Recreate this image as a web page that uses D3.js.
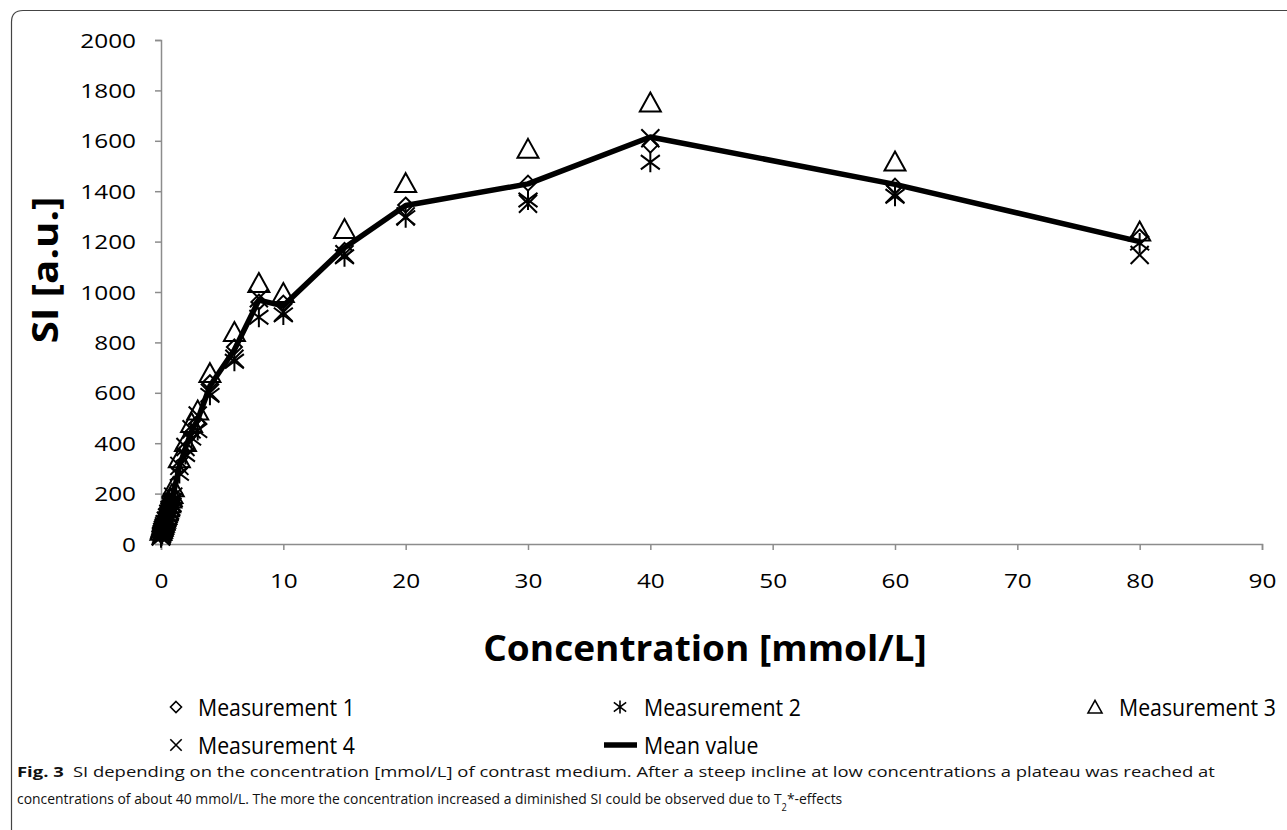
<!DOCTYPE html>
<html>
<head>
<meta charset="utf-8">
<script src="https://cdn.jsdelivr.net/npm/d3@7/dist/d3.min.js"></script>
<style>
  html, body { margin: 0; padding: 0; background: #fff; }
  svg { display: block; }
</style>
</head>
<body>
<svg id="chart" width="1287" height="830"></svg>
<script>
// Concentration of contrast medium [mmol/L]
const concentration = [0, 0.05, 0.1, 0.15, 0.2, 0.25, 0.3, 0.4, 0.5, 0.6, 0.7, 0.8, 0.9, 1, 1.5, 2, 2.5, 3, 4, 6, 8, 10, 15, 20, 30, 40, 60, 80];
// Signal intensity [a.u.] per measurement
const measurement1 = [35, 44, 52, 60, 66, 74, 80, 94, 110, 124, 140, 156, 172, 195, 300, 375, 440, 480, 640, 782, 960, 956, 1165, 1345, 1432, 1583, 1420, 1218];
const measurement2 = [25, 33, 40, 48, 55, 62, 70, 84, 98, 112, 125, 140, 155, 175, 280, 355, 420, 450, 590, 725, 900, 909, 1140, 1295, 1365, 1515, 1380, 1194];
const measurement3 = [52, 60, 68, 76, 84, 92, 100, 115, 130, 146, 162, 180, 198, 225, 340, 405, 480, 530, 678, 841, 1036, 996, 1250, 1432, 1568, 1752, 1518, 1240];
const measurement4 = [30, 38, 47, 55, 62, 70, 78, 92, 105, 120, 135, 150, 165, 188, 310, 385, 455, 510, 600, 735, 975, 920, 1150, 1300, 1350, 1610, 1390, 1147];
const meanValue   = [36, 44, 52, 60, 67, 75, 82, 96, 111, 126, 141, 157, 173, 196, 308, 380, 449, 493, 627, 771, 968, 945, 1176, 1343, 1429, 1615, 1427, 1200];

const yTicks = [0, 200, 400, 600, 800, 1000, 1200, 1400, 1600, 1800, 2000];
const xTicks = [0, 10, 20, 30, 40, 50, 60, 70, 80, 90];

const legendLabels = ["Measurement 1", "Measurement 2", "Measurement 3", "Measurement 4", "Mean value"];
const xTitle = "Concentration [mmol/L]";
const yTitle = "SI [a.u.]";
const captionLine1 = "SI depending on the concentration [mmol/L] of contrast medium. After a steep incline at low concentrations a plateau was reached at";
const captionLine2 = "concentrations of about 40 mmol/L. The more the concentration increased a diminished SI could be observed due to T";

const FONT = "'Open Sans', 'DejaVu Sans', sans-serif";
const svg = d3.select("#chart");

// Outer figure frame with rounded top-left corner
svg.append("path")
  .attr("d", "M11.5,840 L11.5,22 Q11.5,10.5 23,10.5 L1300,10.5")
  .attr("fill", "none").attr("stroke", "#444").attr("stroke-width", 1.2);

const x = d3.scaleLinear().domain([0, 90]).range([161, 1262]);
const y = d3.scaleLinear().domain([0, 2000]).range([544, 40]);

const axisColor = "#8c8c8c";
const sxTick = 1.25;

// Y axis
const gy = svg.append("g").attr("transform", `translate(${x(0)},0)`)
  .call(d3.axisLeft(y).tickValues(yTicks).tickSize(6).tickPadding(0).tickFormat(d3.format("d")));
gy.select(".domain").attr("stroke", axisColor).attr("stroke-width", 1.5);
gy.selectAll(".tick line").attr("stroke", axisColor).attr("stroke-width", 1.5);
gy.selectAll(".tick text")
  .attr("x", -25 / sxTick).attr("dy", "0.36em")
  .attr("transform", `scale(${sxTick},1)`)
  .attr("font-family", FONT).attr("font-size", 19.5).attr("fill", "#000");

// X axis
const gx = svg.append("g").attr("transform", `translate(0,${y(0)})`)
  .call(d3.axisBottom(x).tickValues(xTicks).tickSize(6).tickPadding(0).tickFormat(d3.format("d")));
gx.select(".domain").attr("stroke", axisColor).attr("stroke-width", 1.5);
gx.selectAll(".tick line").attr("stroke", axisColor).attr("stroke-width", 1.5);
gx.selectAll(".tick text")
  .attr("y", 44).attr("dy", 0)
  .attr("transform", `scale(${sxTick},1)`)
  .attr("font-family", FONT).attr("font-size", 19.5).attr("fill", "#000");

// Axis titles
svg.append("text")
  .attr("transform", `translate(45,270) rotate(-90) scale(1.12,1)`)
  .attr("text-anchor", "middle").attr("dy", "0.35em")
  .attr("font-family", FONT).attr("font-weight", "bold").attr("font-size", 36)
  .text(yTitle);
svg.append("text")
  .attr("transform", `translate(705,661) scale(1.09,1.05)`)
  .attr("text-anchor", "middle")
  .attr("font-family", FONT).attr("font-weight", "bold").attr("font-size", 34)
  .text(xTitle);

// Marker shapes
function markerPath(kind, s) {
  const h = s / 2;
  if (kind === "diamond") return `M0,${-h}L${h},0L0,${h}L${-h},0Z`;
  if (kind === "triangle") { const t = h * 0.95; return `M0,${-t}L${h},${t * 0.9}L${-h},${t * 0.9}Z`; }
  if (kind === "cross") { const c = h * 0.95; return `M${-c},${-c}L${c},${c}M${-c},${c}L${c},${-c}`; }
  if (kind === "star") { const c = h * 0.95; return `M0,${-h}L0,${h}M${-c},${-c * 0.75}L${c},${c * 0.75}M${-c},${c * 0.75}L${c},${-c * 0.75}`; }
  return "";
}

const series = [
  { name: legendLabels[0], values: measurement1, kind: "diamond", size: 15 },
  { name: legendLabels[1], values: measurement2, kind: "star", size: 20 },
  { name: legendLabels[2], values: measurement3, kind: "triangle", size: 21 },
  { name: legendLabels[3], values: measurement4, kind: "cross", size: 19 }
];

const plot = svg.append("g");
series.forEach(s => {
  plot.append("g").selectAll("path")
    .data(concentration.map((c, i) => [c, s.values[i]]))
    .join("path")
    .attr("transform", d => `translate(${x(d[0])},${y(d[1])})`)
    .attr("d", markerPath(s.kind, s.size))
    .attr("fill", "none").attr("stroke", "#000").attr("stroke-width", 2);
});

// Mean value line
plot.append("path")
  .datum(concentration.map((c, i) => [c, meanValue[i]]))
  .attr("d", d3.line().x(d => x(d[0])).y(d => y(d[1])))
  .attr("fill", "none").attr("stroke", "#000").attr("stroke-width", 5.5)
  .attr("stroke-linejoin", "round");

// Legend
const legendItems = [
  { label: legendLabels[0], kind: "diamond", mx: 176, my: 707, tx: 198, size: 11 },
  { label: legendLabels[1], kind: "star", mx: 620, my: 707, tx: 644, size: 13 },
  { label: legendLabels[2], kind: "triangle", mx: 1095, my: 707, tx: 1119, size: 14 },
  { label: legendLabels[3], kind: "cross", mx: 176, my: 745, tx: 198, size: 12 },
  { label: legendLabels[4], kind: "line", mx: 620, my: 745, tx: 644, size: 0 }
];
const lg = svg.append("g");
legendItems.forEach(it => {
  if (it.kind === "line") {
    lg.append("line").attr("x1", it.mx - 16).attr("x2", it.mx + 17)
      .attr("y1", it.my).attr("y2", it.my)
      .attr("stroke", "#000").attr("stroke-width", 5.5);
  } else {
    lg.append("path").attr("transform", `translate(${it.mx},${it.my})`)
      .attr("d", markerPath(it.kind, it.size))
      .attr("fill", "none").attr("stroke", "#000").attr("stroke-width", 1.6);
  }
  lg.append("text")
    .attr("transform", `translate(${it.tx},${it.my}) scale(1,1.14)`)
    .attr("dy", "0.36em")
    .attr("font-family", FONT).attr("font-size", 21.3).attr("fill", "#000")
    .text(it.label);
});

// Figure caption, each line condensed to its column width
const cap = svg.append("g").attr("font-family", FONT).attr("font-size", 15).attr("fill", "#111");
function fitLine(sel, x0, y0, targetWidth) {
  const w = sel.node().getComputedTextLength();
  sel.attr("transform", `translate(${x0},${y0}) scale(${targetWidth / w},1)`);
}
const line1 = cap.append("text");
line1.append("tspan").attr("font-weight", "bold").text("Fig. 3");
line1.append("tspan").text("\u2002" + captionLine1);
fitLine(line1, 17, 777, 1199);

const line2 = cap.append("text");
line2.append("tspan").text(captionLine2);
line2.append("tspan").attr("font-size", 10).attr("baseline-shift", "sub").text("2");
line2.append("tspan").text("*-effects");
fitLine(line2, 17, 804, 826);
</script>
</body>
</html>
